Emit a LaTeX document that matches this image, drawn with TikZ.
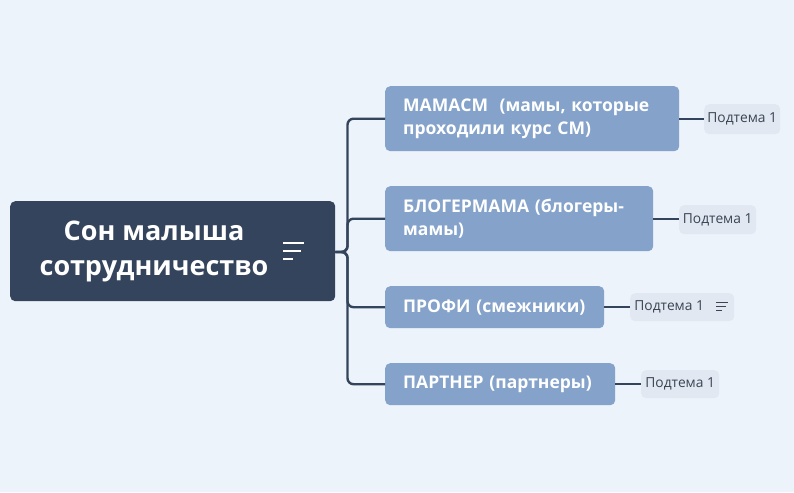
\documentclass[tikz,border=0pt]{standalone}
\usepackage{fontspec}
\setmainfont{Open Sans}
\definecolor{bg}{HTML}{ECF3FA}
\definecolor{rootc}{HTML}{34445C}
\definecolor{branchc}{HTML}{84A2CA}
\definecolor{subc}{HTML}{E1E8F1}
\definecolor{linec}{HTML}{34445C}
\definecolor{subtext}{HTML}{3A4454}
\begin{document}
\begin{tikzpicture}[x=1pt,y=-1pt,
  rootbox/.style={fill=rootc,rounded corners=5pt,inner sep=0pt,anchor=north west},
  branchbox/.style={fill=branchc,rounded corners=5pt,anchor=north west,inner ysep=0pt,inner xsep=18pt,align=left,text=white,font=\fontsize{17.5}{23}\selectfont\bfseries},
  subbox/.style={fill=subc,rounded corners=5pt,anchor=north west,inner ysep=0pt,inner xsep=0pt,text=subtext,font=\fontsize{13.8}{16}\selectfont},
  conn/.style={draw=linec,line width=2.4pt,rounded corners=6pt},
  sconn/.style={draw=linec,line width=2pt},
  iconw/.style={draw=white,line width=2pt},
  icong/.style={draw=subtext,line width=1.2pt}]
\useasboundingbox (0,0) rectangle (794,492);
\fill[bg] (0,0) rectangle (794,492);
% root
\node[rootbox,minimum width=325pt,minimum height=100pt] (root) at (10,201) {};
\node[text=white,font=\fontsize{27}{35}\selectfont\bfseries,align=center] (roottext) at (154,251) {Сон малыша\\сотрудничество};
\draw[iconw] (283,243) -- (304,243);
\draw[iconw] (283,251) -- (301,251);
\draw[iconw] (283,258.5) -- (293,258.5);
% branches
\node[branchbox,text width=258pt,minimum height=65pt] (b1) at (385,86) {МАМАСМ\ \ (мамы, которые\\проходили курс СМ)};
\node[branchbox,text width=232pt,minimum height=65pt] (b2) at (385,186) {БЛОГЕРМАМА (блогеры-\\мамы)};
\node[branchbox,text width=183pt,minimum height=42pt] (b3) at (385,286) {ПРОФИ (смежники)};
\node[branchbox,text width=194pt,minimum height=42pt] (b4) at (385,363) {ПАРТНЕР (партнеры)};
% subtopics
\node[subbox,minimum width=76pt,minimum height=30pt] (s1) at (704,104) {Подтема 1};
\node[subbox,minimum width=77pt,minimum height=29pt] (s2) at (679,205) {Подтема 1};
\node[subbox,minimum width=104pt,minimum height=28pt] (s3) at (630,293) {Подтема 1\kern26pt\relax};
\node[subbox,minimum width=78pt,minimum height=28pt] (s4) at (641,370) {Подтема 1};
\draw[icong] (716,302.7) -- (728,302.7);
\draw[icong] (716,306.7) -- (726,306.7);
\draw[icong] (716,310.7) -- (722,310.7);
% connectors
\coordinate (trunk) at (347.5,252);
\draw[conn] (root.east |- trunk) -- (trunk) |- (b1.west);
\draw[conn] (root.east |- trunk) -- (trunk) |- (b2.west);
\draw[conn] (root.east |- trunk) -- (trunk) |- (b3.west);
\draw[conn] (root.east |- trunk) -- (trunk) |- (b4.west);
\draw[sconn] (b1.east) -- (s1.west |- b1.east);
\draw[sconn] (b2.east) -- (s2.west |- b2.east);
\draw[sconn] (b3.east) -- (s3.west |- b3.east);
\draw[sconn] (b4.east) -- (s4.west |- b4.east);
\end{tikzpicture}
\end{document}
